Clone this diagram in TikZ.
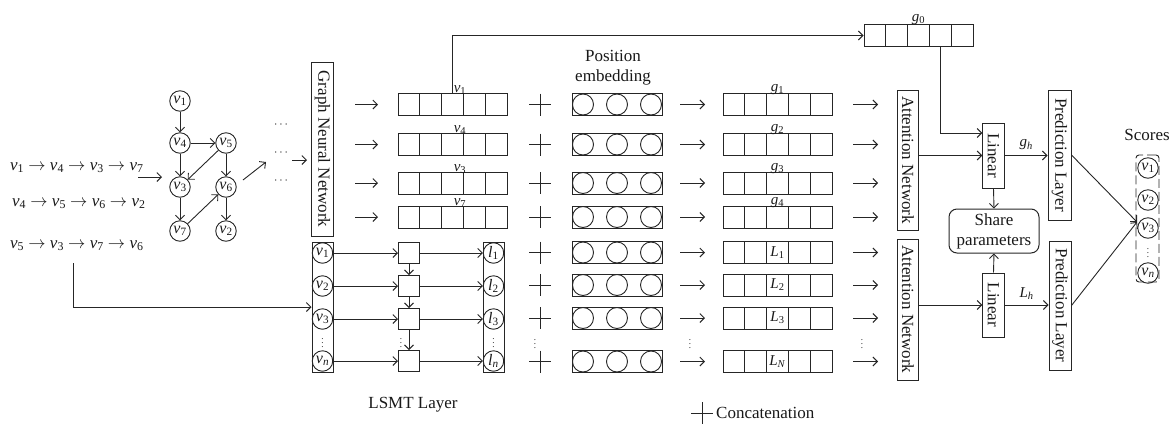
\documentclass[tikz,border=0pt]{standalone}
\usepackage{fontspec}
\usepackage{graphicx}
\setmainfont{Liberation Serif}
\usetikzlibrary{arrows.meta}
\newcommand\iv[1]{\textit{v}\textsubscript{#1}}
\newcommand\vecrow[4]{%
  \node[draw=black!85, line width=1pt, minimum width=109pt, minimum height=22pt] (#1) at (#2,#3) {};
  \foreach \i in {1,...,4} \draw[line width=1pt, black!85] ({#2-54.5+\i*21.8},{#3-11}) -- ++(0,22);
  \node[font=\fontsize{15}{17}\selectfont] (#1lab) at (#2,#3) {#4};
}
\newcommand\posrow[3]{%
  \node[draw=black!85, line width=1pt, minimum width=90pt, minimum height=22pt] (#1) at (#2,#3) {};
  \foreach \dx in {-34,0,34} \draw[line width=0.9pt, black!85] ({#2+\dx},#3) circle[radius=10.5pt];
}
\newcommand\vt[1]{\rotatebox{-90}{#1}}
\begin{document}
\begin{tikzpicture}[x=1pt,y=-1pt,
  every node/.style={font=\fontsize{17}{20}\selectfont, inner sep=0pt, text=black!90},
  ln/.style={line width=0.9pt, draw=black!85},
  arr/.style={ln, -{Straight Barb[length=4.5pt,width=9pt]}},
  cir/.style={circle, draw=black!85, line width=0.9pt, minimum size=20.5pt, inner sep=0pt, font=\fontsize{16}{18}\selectfont},
  vbox/.style={draw=black!85, line width=1pt, minimum width=21.5pt, inner sep=0pt},
  sq/.style={draw=black!85, line width=1pt, minimum size=21pt},
  col/.style={draw=black!85, line width=1pt, minimum width=21pt, minimum height=130pt},
  lab/.style={font=\fontsize{15}{17}\selectfont},
  vd/.style={font=\fontsize{9}{10}\selectfont},
]
\useasboundingbox (0,0) rectangle (1171,424);

% ---- input sequences
\node[anchor=base west] (seq1) at (10,170) {\iv1 $\rightarrow$ \iv4 $\rightarrow$ \iv3 $\rightarrow$ \iv7};
\node[anchor=base west] (seq2) at (12,206) {\iv4 $\rightarrow$ \iv5 $\rightarrow$ \iv6 $\rightarrow$ \iv2};
\node[anchor=base west] (seq3) at (10,248) {\iv5 $\rightarrow$ \iv3 $\rightarrow$ \iv7 $\rightarrow$ \iv6};
\coordinate (sa) at (138,177); \coordinate (sb) at (162,177);
\draw[arr] (sa) -- (sb);

% ---- session graph
\node[cir] (g1) at (180,101) {\iv1};
\node[cir] (g4) at (180,143) {\iv4};
\node[cir] (g5) at (226,143) {\iv5};
\node[cir] (g3) at (180,187) {\iv3};
\node[cir] (g6) at (226,187) {\iv6};
\node[cir] (g7) at (180,231) {\iv7};
\node[cir] (g2) at (226,231) {\iv2};
\draw[arr] (g1) -- (g4);
\draw[arr] (g4) -- (g5);
\draw[arr] (g4) -- (g3);
\draw[arr] (g5) -- (g3);
\draw[arr] (g5) -- (g6);
\draw[arr] (g3) -- (g7);
\draw[arr] (g7) -- (g6);
\draw[arr] (g6) -- (g2);
\coordinate (ga) at (243,180); \coordinate (gb) at (266,162);
\draw[arr] (ga) -- (gb);
\node[font=\fontsize{12}{14}\selectfont] (d1) at (281,125) {$\cdots$};
\node[font=\fontsize{12}{14}\selectfont] (d2) at (281,153) {$\cdots$};
\node[font=\fontsize{12}{14}\selectfont] (d3) at (281,181) {$\cdots$};
\coordinate (da) at (292,160); \coordinate (db) at (307,160);
\draw[arr] (da) -- (db);

% ---- GNN
\node[vbox, minimum height=174pt] (gnn) at (322.5,149) {\vt{Graph Neural Network}};
\foreach \n/\y/\l in {1/104.5/1, 2/144.5/4, 3/183/3, 4/217/7}{
  \draw[arr] (355,\y) -- (378,\y);
  \vecrow{vv\n}{452.5}{\y}{}
  \node[lab, anchor=south] (vl\n) at (460,\y-9.5) {\iv{\l}};
}

% ---- LSTM
\node[col] (inbox) at (322.5,307) {};
\node[col] (outbox) at (493.5,307) {};
\foreach \n/\y/\t in {1/253/1, 2/286/2, 3/319/3, 4/361/\textit{n}}{
  \node[cir] (lv\n) at (322.5,\y) {\iv{\t}};
  \node[cir] (ll\n) at (493.5,\y) {\textit{l}\textsubscript{\t}};
  \node[sq] (cell\n) at (409,\y) {};
  \draw[arr] (lv\n) -- (cell\n);
  \draw[arr] (cell\n) -- (ll\n);
}
\draw[arr] (cell1) -- (cell2);
\draw[arr] (cell2) -- (cell3);
\draw[arr] (cell3) -- (cell4);
\node[vd] (ldot1) at (322.5,340) {$\vdots$};
\node[vd] (ldot2) at (401,340) {$\vdots$};
\node[vd] (ldot3) at (493.5,340) {$\vdots$};
\coordinate (in0) at (73,263);
\draw[arr] (in0) |- (inbox.west);
\node (lsmt) at (413,405) {LSMT Layer};

% ---- concatenation, position embedding, outputs
\node[align=center, font=\fontsize{17}{20}\selectfont] (posl) at (613,68) {Position\\embedding};
\foreach \n/\y in {1/104.5, 2/144.5, 3/183, 4/217, 5/252.5, 6/285, 7/318, 8/361.5}{
  \draw[ln] (529,\y) -- (551,\y) (540,\y-11) -- (540,\y+11);
  \posrow{pe\n}{617}{\y}
  \draw[arr] (680,\y) -- (705,\y);
  \draw[arr] (853,\y) -- (878,\y);
}
\foreach \n/\y in {1/104.5, 2/144.5, 3/183, 4/217}{
  \vecrow{gv\n}{777.5}{\y}{}
  \node[lab, anchor=south] (gl\n) at (777.5,\y-9.5) {\textit{g}\textsubscript{\n}};
}
\foreach \n/\y/\t in {5/252.5/1, 6/285/2, 7/318/3, 8/361.5/\textit{N}}{
  \vecrow{gv\n}{777.5}{\y}{\textit{L}\textsubscript{\t}}
}
\node[vd] (cdot1) at (535,341) {$\vdots$};
\node[vd] (cdot2) at (690,341) {$\vdots$};
\node[vd] (cdot3) at (862,341) {$\vdots$};

% ---- g0
\vecrow{g0}{918.5}{35.5}{}
\node[lab, anchor=south] (g0l) at (918.5,25) {\textit{g}\textsubscript{0}};
\draw[arr] (vv1.north) |- (g0.west);

% ---- attention, linear, prediction
\node[vbox, minimum height=140pt] (att1) at (908,160) {\vt{Attention Network}};
\node[vbox, minimum height=141pt] (att2) at (908,309.5) {\vt{Attention Network}};
\node[vbox, minimum height=65pt] (lin1) at (993.5,155.5) {\vt{Linear}};
\node[vbox, minimum height=64pt] (lin2) at (993.5,305) {\vt{Linear}};
\node[vbox, minimum height=130pt, minimum width=23pt] (pred1) at (1059.5,155) {\vt{Prediction Layer}};
\node[vbox, minimum height=129pt, minimum width=22pt] (pred2) at (1060,305.5) {\vt{Prediction Layer}};
\node[draw=black!85, line width=1pt, rounded corners=8pt, minimum width=90pt, minimum height=44pt, align=center, font=\fontsize{17}{20}\selectfont] (share) at (994,231) {Share\\parameters};

\draw[arr] ([xshift=21.8pt]g0.south) |- ([yshift=22.5pt]lin1.west);
\draw[arr] (att1.east |- lin1) -- (lin1.west);
\draw[arr] (att2.east |- lin2) -- (lin2.west);
\draw[arr] (lin1.south) -- (share.north);
\draw[arr] (lin2.north) -- (share.south);
\draw[arr] (lin1.east) -- node[lab, above=5pt] (ghl) {\textit{g}\textsubscript{\textit{h}}} (lin1.east -| pred1.west);
\draw[arr] (lin2.east) -- node[lab, above=5pt] (lhl) {\textit{L}\textsubscript{\textit{h}}} (lin2.east -| pred2.west);

% ---- scores
\node (scl) at (1147,135) {Scores};
\node[draw=black!85, line width=0.9pt, dash pattern=on 9pt off 4pt, rounded corners=3pt, minimum width=23pt, minimum height=127pt] (scbox) at (1147.5,218.5) {};
\node[cir] (s1) at (1148,168) {\iv1};
\node[cir] (s2) at (1148,200) {\iv2};
\node[cir] (s3) at (1148,228) {\iv3};
\node[cir] (sn) at (1148,273) {\iv{\textit{n}}};
\node[vd] (sdot) at (1148,250.5) {$\vdots$};
\coordinate (sin) at (1137,222);
\draw[arr] (pred1.east) -- (sin);
\draw[arr] (pred2.east) -- (sin);

% ---- legend
\draw[ln] (691,413) -- (713,413) (702,402) -- (702,424);
\node[anchor=west] (concl) at (716,413) {Concatenation};
\end{tikzpicture}
\end{document}
